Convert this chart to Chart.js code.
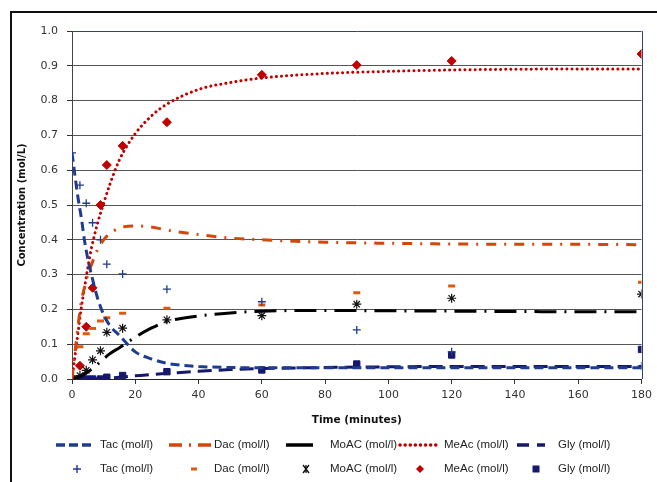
<!DOCTYPE html>
<html>
<head>
<meta charset="utf-8">
<script src="https://cdn.jsdelivr.net/npm/chart.js@4"></script>
<style>
  html, body { margin: 0; padding: 0; background: #fff; }
  #wrap { position: relative; width: 657px; height: 482px; }
  #chart { position: absolute; left: 0; top: 0; }
  .lg { position: absolute; font: 11.5px "Liberation Sans", Arial, sans-serif; color: #222; line-height: 14px; white-space: nowrap; }
  .sw { position: absolute; }
</style>
</head>
<body>
<div id="wrap">
  <canvas id="chart" width="657" height="482"></canvas>
  <div id="legend"></div>
</div>
<script>
// measured samples (minutes)
const sampleTimes = [0, 2.5, 4.5, 6.5, 9, 11, 16, 30, 60, 90, 120, 180];
const tacObs  = [0.65, 0.557, 0.505, 0.449, 0.40, 0.33, 0.302, 0.258, 0.222, 0.141, 0.078, 0.037];
const dacObs  = [0, 0.093, 0.13, 0.145, 0.167, 0.176, 0.189, 0.203, 0.213, 0.248, 0.267, 0.278];
const moacObs = [0, 0.01, 0.025, 0.055, 0.081, 0.134, 0.146, 0.17, 0.182, 0.215, 0.232, 0.244];
const meacObs = [0, 0.038, 0.15, 0.262, 0.50, 0.615, 0.67, 0.738, 0.874, 0.902, 0.914, 0.934];
const glyObs  = [0, 0, 0, 0, 0, 0.005, 0.01, 0.021, 0.026, 0.043, 0.069, 0.085];

// model curves
const modelTimes = [0, 1, 2, 3, 4, 5, 6, 8, 10, 12, 15, 20, 25, 30, 40, 50, 60, 80, 100, 120, 140, 160, 180];
const tacModel  = [0.65, 0.58, 0.515, 0.46, 0.395, 0.345, 0.305, 0.235, 0.185, 0.153, 0.125, 0.078, 0.058, 0.045, 0.036, 0.033, 0.032, 0.032, 0.032, 0.032, 0.032, 0.032, 0.032];
const dacModel  = [0, 0.08, 0.16, 0.225, 0.265, 0.30, 0.325, 0.37, 0.40, 0.418, 0.434, 0.44, 0.437, 0.428, 0.415, 0.405, 0.40, 0.393, 0.39, 0.388, 0.387, 0.387, 0.386];
const moacModel = [0, 0.002, 0.005, 0.009, 0.014, 0.02, 0.027, 0.042, 0.058, 0.073, 0.09, 0.12, 0.146, 0.165, 0.181, 0.19, 0.195, 0.197, 0.196, 0.195, 0.194, 0.193, 0.193];
const meacModel = [0, 0.07, 0.14, 0.208, 0.265, 0.32, 0.37, 0.445, 0.505, 0.56, 0.63, 0.705, 0.755, 0.79, 0.832, 0.852, 0.865, 0.878, 0.884, 0.888, 0.89, 0.891, 0.891];
const glyModel  = [0, 0, 0, 0, 0, 0, 0, 0.001, 0.002, 0.003, 0.005, 0.009, 0.013, 0.016, 0.022, 0.027, 0.03, 0.033, 0.035, 0.036, 0.036, 0.036, 0.036];

const seriesNames = ['Tac (mol/l)', 'Dac (mol/l)', 'MoAC (mol/l)', 'MeAc (mol/l)', 'Gly (mol/l)'];

const xy = (xs, ys) => xs.map((x, i) => ({ x: x, y: ys[i] }));

const TAC = '#1f3c8f', DAC = '#d2470a', MOAC = '#000000', MEAC = '#c00000', GLY = '#16186e';

function curve(label, data, color, dash, cap) {
  return {
    type: 'line', label: label, data: xy(modelTimes, data),
    borderColor: color, borderWidth: 3, borderDash: dash, borderCapStyle: cap || 'butt',
    pointRadius: 0, tension: 0.4, cubicInterpolationMode: 'monotone', fill: false, order: 1
  };
}
function marks(label, data, color, style, r, bw) {
  return {
    type: 'scatter', label: label, data: xy(sampleTimes, data),
    pointStyle: style, pointRadius: r, borderWidth: bw,
    borderColor: color, backgroundColor: color, showLine: false, order: 2
  };
}

// frame around the whole figure and right edge of plot
const framePlugin = {
  id: 'frame',
  afterDraw(chart) {
    const ctx = chart.ctx, a = chart.chartArea;
    ctx.save();
    ctx.strokeStyle = '#111';
    ctx.lineWidth = 2;
    ctx.beginPath();
    ctx.moveTo(11, 482); ctx.lineTo(11, 12); ctx.lineTo(657, 12);
    ctx.stroke();
    ctx.strokeStyle = '#2f4470';
    ctx.lineWidth = 1;
    ctx.beginPath();
    ctx.moveTo(Math.round(a.right) + 0.5, a.top); ctx.lineTo(Math.round(a.right) + 0.5, a.bottom);
    ctx.stroke();
    ctx.restore();
  }
};

new Chart(document.getElementById('chart'), {
  data: {
    datasets: [
      curve(seriesNames[0], tacModel, TAC, [9, 5]),
      curve(seriesNames[1], dacModel, DAC, [10, 8, 2, 8]),
      curve(seriesNames[2], moacModel, MOAC, [22, 8, 2, 8]),
      curve(seriesNames[3], meacModel, MEAC, [0.1, 5], 'round'),
      curve(seriesNames[4], glyModel, GLY, [14, 7]),
      marks(seriesNames[0], tacObs, TAC, 'cross', 4, 1.3),
      marks(seriesNames[1], dacObs, '#dc5a10', 'line', 3.5, 3),
      marks(seriesNames[2], moacObs, '#111', 'star', 4.5, 1.2),
      marks(seriesNames[3], meacObs, MEAC, 'rectRot', 4.5, 1),
      marks(seriesNames[4], glyObs, GLY, 'rect', 4.5, 1)
    ]
  },
  options: {
    responsive: false,
    animation: false,
    layout: { padding: { left: 10, top: 31, right: 12, bottom: 55 } },
    plugins: { legend: { display: false }, tooltip: { enabled: false } },
    scales: {
      x: {
        type: 'linear', min: 0, max: 180,
        afterFit: s => { s.height = 48; },
        ticks: { stepSize: 20, padding: 5, color: '#333', font: { family: 'DejaVu Sans', size: 11 } },
        grid: { drawOnChartArea: false, tickLength: 5, tickColor: '#333' },
        border: { color: '#222', width: 1 },
        title: { display: true, text: 'Time (minutes)', color: '#111', padding: { top: 0, bottom: 0 },
                 font: { family: 'DejaVu Sans', size: 10.5, weight: 'bold' } }
      },
      y: {
        min: 0, max: 1,
        afterFit: s => { s.width = 62; },
        ticks: { stepSize: 0.1, padding: 9, color: '#333', font: { family: 'DejaVu Sans', size: 11 },
                 callback: v => v.toFixed(1) },
        grid: { color: c => (c.tick && c.tick.value === 1 ? '#2f4470' : '#555'), tickLength: 5, tickColor: '#333' },
        border: { color: '#444', width: 1 },
        title: { display: true, text: 'Concentration (mol/L)', color: '#111', padding: { top: 6, bottom: 0 },
                 font: { family: 'DejaVu Sans', size: 10, weight: 'bold' } }
      }
    }
  },
  plugins: [framePlugin]
});

// legend below the plot
const lineSamples = [
  { x1: 56, x2: 93, color: TAC, dash: '9 4', cap: 'butt' },
  { x1: 169, x2: 212, color: DAC, dash: '13 7 2 7', cap: 'butt' },
  { x1: 286, x2: 313, color: MOAC, dash: '', cap: 'butt' },
  { x1: 400, x2: 438, color: MEAC, dash: '0.1 5', cap: 'round' },
  { x1: 517, x2: 545, color: GLY, dash: '12 8', cap: 'butt' }
];
const markerX = [77, 194, 306, 420, 536];
const textX = [100, 214, 330, 444, 558];
const row1 = 445, row2 = 469;

const legend = document.getElementById('legend');
let html = '';
lineSamples.forEach((s, i) => {
  html += '<svg class="sw" style="left:' + (s.x1 - 2) + 'px;top:' + (row1 - 5) + 'px" width="' + (s.x2 - s.x1 + 4) + '" height="10">' +
    '<line x1="2" y1="5" x2="' + (s.x2 - s.x1 + 2) + '" y2="5" stroke="' + s.color + '" stroke-width="3.5" stroke-linecap="' + s.cap + '"' +
    (s.dash ? ' stroke-dasharray="' + s.dash + '"' : '') + '/></svg>';
  html += '<div class="lg" style="left:' + textX[i] + 'px;top:' + (row1 - 8) + 'px">' + seriesNames[i] + '</div>';
});
const markerSvg = [
  '<path d="M5 1V9M1 5H9" stroke="' + TAC + '" stroke-width="1.4"/>',
  '<path d="M2 5H8" stroke="#dc5a10" stroke-width="3"/>',
  '<path d="M2 1L8 9M8 1L2 9M5 1V9" stroke="#111" stroke-width="1.3"/>',
  '<path d="M5 1L9 5L5 9L1 5Z" fill="' + MEAC + '"/>',
  '<rect x="1.5" y="1.5" width="7" height="7" fill="' + GLY + '"/>'
];
markerX.forEach((mx, i) => {
  html += '<svg class="sw" style="left:' + (mx - 5) + 'px;top:' + (row2 - 5) + 'px" width="10" height="10">' + markerSvg[i] + '</svg>';
  html += '<div class="lg" style="left:' + textX[i] + 'px;top:' + (row2 - 8) + 'px">' + seriesNames[i] + '</div>';
});
legend.innerHTML = html;
</script>
</body>
</html>
